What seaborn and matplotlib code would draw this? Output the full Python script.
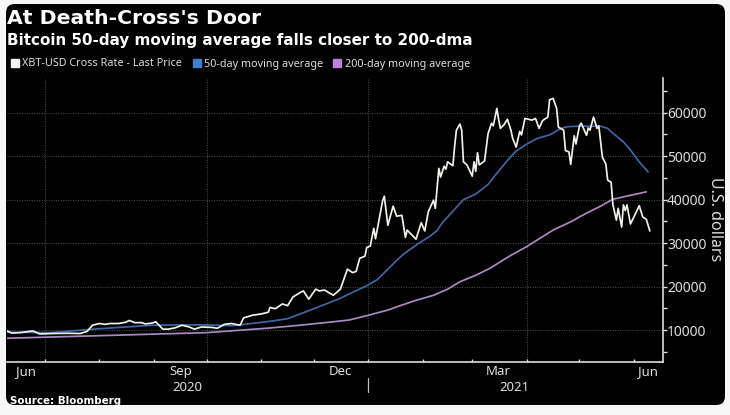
"""
Bitcoin price vs 50-day and 200-day moving averages (Bloomberg style chart).
"""

import pandas as pd
import matplotlib.pyplot as plt
import matplotlib.dates as mdates
import seaborn as sns
from matplotlib.patches import FancyBboxPatch, Patch
from matplotlib.ticker import MultipleLocator

# days counted from START, values in U.S. dollars
START = "2020-07-01"
price_days = [-22, -19, -14, -7, -3, 5, 13, 20, 24, 27, 31, 34, 37, 42, 46, 48, 51, 55, 57, 61,
              63, 67, 70, 74, 78, 82, 85, 89, 95, 98, 102, 106, 111, 113, 118, 123, 127, 128, 131, 135,
              138, 141, 145, 147, 150, 154, 156, 159, 164, 168, 171, 172, 175, 177, 179, 182, 183, 185, 187, 188,
              192, 193, 195, 198, 200, 203, 205, 206, 211, 214, 216, 218, 221, 222, 224, 225, 227, 228, 229, 232,
              233, 234, 236, 237, 238, 240, 243, 244, 245, 246, 247, 250, 252, 254, 255, 257, 258, 259, 261, 263,
              265, 266, 268, 270, 271, 273, 277, 279, 281, 283, 286, 287, 289, 291, 292, 295, 296, 298, 299, 301,
              302, 304, 305, 308, 309, 310, 312, 314, 315, 317, 319, 320, 322, 323, 325, 326, 328, 329, 330, 331,
              333, 336, 338, 340, 342, 344]
price_values = [9900, 9300, 9400, 9800, 9100, 9200, 9250, 9200, 9700, 11100, 11500, 11300, 11500, 11500, 11800, 12200, 11700, 11700, 11400, 11600,
                11900, 10200, 10200, 10500, 11100, 10700, 10200, 10700, 10600, 10400, 11300, 11500, 11100, 12800, 13400, 13700, 14100, 15200, 14900, 16000,
                15600, 17600, 18600, 19000, 17100, 19400, 19000, 19200, 18000, 19400, 22800, 24000, 23200, 23500, 26500, 27000, 29000, 29300, 33400, 31000,
                39700, 40800, 34100, 38500, 36200, 36400, 31300, 33000, 30900, 34700, 32800, 37200, 39900, 38000, 47200, 45200, 47700, 47000, 48700, 47800,
                52300, 56000, 57400, 56000, 48700, 48000, 45400, 48700, 46500, 50800, 48000, 48900, 55200, 57600, 57000, 61000, 58500, 56400, 57200, 58500,
                56000, 54100, 52100, 55700, 54900, 58700, 58300, 58700, 56400, 58200, 59000, 63000, 63300, 61000, 56700, 56000, 51300, 51000, 48100, 54700,
                52800, 57000, 57600, 54800, 56500, 56000, 59000, 56400, 57000, 49800, 48200, 44500, 44000, 38800, 35300, 38000, 33700, 38800, 37500, 38800,
                34400, 36900, 38600, 36000, 35500, 32800]

ma50_days = [-22, 3, 31, 61, 88, 107, 126, 138, 151, 168, 173, 183, 189, 195, 200, 204, 212, 219, 223, 226,
             231, 238, 245, 252, 256, 263, 268, 274, 280, 287, 293, 297, 304, 316, 320, 323, 329, 333, 338, 343]
ma50_values = [9500, 9400, 10300, 11100, 11200, 11000, 11900, 12600, 14600, 17300, 18300, 20200, 21600, 24000, 26000, 27500, 29800, 31600, 32900, 34700,
               36900, 40000, 41300, 43500, 45600, 49000, 51200, 52800, 54100, 54900, 56300, 56800, 56900, 56900, 56400, 55300, 53300, 51400, 48700, 46400]

ma200_days = [-22, 31, 92, 126, 145, 164, 173, 184, 195, 202, 210, 221, 229, 236, 245, 253, 265, 274, 289, 299,
              308, 316, 323, 333, 342]
ma200_values = [8100, 8700, 9400, 10400, 11100, 11900, 12300, 13400, 14600, 15600, 16700, 18000, 19400, 21100, 22600, 24200, 27200, 29200, 33000, 34900,
                36900, 38500, 40100, 41000, 41800]

# month labels sit mid-month between the ticks
month_labels = ["Jun", "Sep", "Dec", "Mar", "Jun"]
month_label_days = [-11, 77, 168, 258, 343]
year_labels = ["2020", "2021"]
year_label_days = [81, 267]
year_split_day = 184

PRICE = "XBT-USD Cross Rate - Last Price"
MA50 = "50-day moving average"
MA200 = "200-day moving average"
TEXT = "#dcdcdc"


def to_dates(days):
    return pd.to_datetime(START) + pd.to_timedelta(days, unit="D")


def series(days, values, name):
    return pd.DataFrame({"date": to_dates(days), "value": values, "series": name})


sns.set_style("dark")
plt.rcParams["font.family"] = ["Noto Sans", "DejaVu Sans"]

df = pd.concat([series(ma200_days, ma200_values, MA200),
                series(ma50_days, ma50_values, MA50),
                series(price_days, price_values, PRICE)], ignore_index=True)

fig = plt.figure(figsize=(7.3, 4.15), dpi=100, facecolor="#f7f7f7")
fig.add_artist(FancyBboxPatch((6 / 730, 10 / 415), 719 / 730, 401 / 415,
                              boxstyle="round,pad=0,rounding_size=0.012", mutation_aspect=1.76,
                              transform=fig.transFigure, facecolor="black", edgecolor="none", zorder=-1))

ax = fig.add_axes([7 / 730, 53 / 415, 656 / 730, 284 / 415], facecolor="black")
sns.lineplot(data=df, x="date", y="value", hue="series", ax=ax, legend=False, errorbar=None,
             hue_order=[MA200, MA50, PRICE],
             palette={PRICE: "#f0f0ea", MA50: "#3f67a3", MA200: "#a98abf"}, linewidth=1.25)

ax.set_xlim(to_dates(-21.6), to_dates(351.5))
ax.set_ylim(2640, 68000)
ax.set_xlabel("")
ax.set_ylabel("")

ax.xaxis.set_major_locator(mdates.MonthLocator(bymonth=[1, 4, 7, 10]))
ax.xaxis.set_minor_locator(mdates.MonthLocator())
ax.xaxis.set_major_formatter(plt.NullFormatter())
ax.yaxis.set_major_locator(MultipleLocator(10000))
ax.yaxis.set_minor_locator(MultipleLocator(5000))
ax.yaxis.tick_right()
ax.tick_params(axis="y", which="both", direction="out", length=3, width=1, color=TEXT,
               labelcolor=TEXT, labelsize=10, pad=0, right=True)
ax.tick_params(axis="x", which="both", direction="in", length=2, width=1, color=TEXT, bottom=True)
ax.grid(True, which="major", color="#4f4f4f", linestyle=(0, (1, 1.5)), linewidth=0.7)
ax.set_axisbelow(True)

for side in ["top", "left"]:
    ax.spines[side].set_visible(False)
for side in ["right", "bottom"]:
    ax.spines[side].set_visible(True)
    ax.spines[side].set_color(TEXT)
    ax.spines[side].set_linewidth(1.2)

trans = ax.get_xaxis_transform()
for day, label in zip(month_label_days, month_labels):
    ax.text(to_dates(day), -0.01, label, transform=trans, ha="center", va="top", color=TEXT, fontsize=9.5)
for day, label in zip(year_label_days, year_labels):
    ax.text(to_dates(day), -0.066, label, transform=trans, ha="center", va="top", color=TEXT, fontsize=9.5)
ax.plot([to_dates(year_split_day)] * 2, [-0.056, -0.107], transform=trans, color="#bbbbbb",
        linewidth=0.9, clip_on=False)

handles = [Patch(color="#f4f4f4", label=PRICE), Patch(color="#3f7fd0", label=MA50), Patch(color="#bd83dc", label=MA200)]
fig.legend(handles=handles, loc="center left", bbox_to_anchor=(11 / 730, 351 / 415), ncol=3, frameon=False,
           labelcolor=TEXT, fontsize=7.8, handlelength=0.75, handleheight=0.75, handletextpad=0.3,
           columnspacing=0.95, borderpad=0, borderaxespad=0)

fig.text(7 / 730, 397 / 415, "At Death-Cross's Door", color="white", fontsize=14.7, fontweight="bold",
         family="DejaVu Sans", va="center")
fig.text(7 / 730, 375 / 415, "Bitcoin 50-day moving average falls closer to 200-dma", color="white",
         fontsize=10.9, fontweight="bold", family="DejaVu Sans", va="center")
fig.text(10 / 730, 14 / 415, "Source: Bloomberg", color="white", fontsize=7.4, fontweight="bold",
         family="DejaVu Sans", va="center")
fig.text(715 / 730, 196 / 415, "U.S. dollars", color=TEXT, fontsize=11.5, rotation=-90, ha="center", va="center")

fig.savefig("out.png", dpi=100, facecolor=fig.get_facecolor())
